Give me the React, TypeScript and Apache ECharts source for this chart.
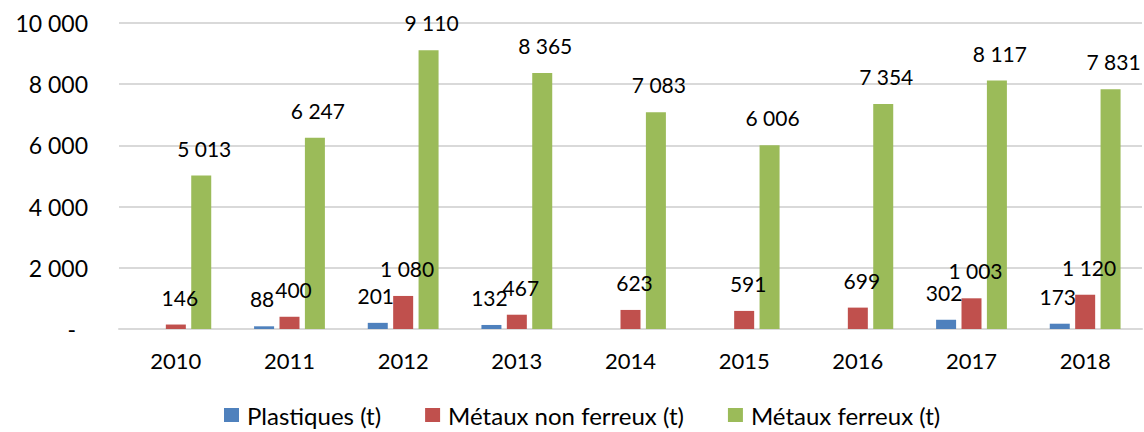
import React, { useEffect, useRef } from "react";
import * as echarts from "echarts";

const years = ["2010", "2011", "2012", "2013", "2014", "2015", "2016", "2017", "2018"];
const plastiques = [null, 88, 201, 132, null, null, null, 302, 173];
const metauxNonFerreux = [146, 400, 1080, 467, 623, 591, 699, 1003, 1120];
const metauxFerreux = [5013, 6247, 9110, 8365, 7083, 6006, 7354, 8117, 7831];
const seriesNames = ["Plastiques (t)", "Métaux non ferreux (t)", "Métaux ferreux (t)"];
const colors = ["#4f81bd", "#c0504d", "#9bbb59"];
const labelShift = [-2, 4, 3];

const fmt = (v: number) => String(Math.round(v)).replace(/\B(?=(\d{3})+(?!\d))/g, " ");
const FONT = "Lato";

export default function App() {
  const ref = useRef<HTMLDivElement>(null);
  useEffect(() => {
    const chart = echarts.init(ref.current!, undefined, { renderer: "svg" });
    const mk = (i: number, data: (number | null)[]) => ({
      name: seriesNames[i],
      type: "bar",
      data,
      barWidth: 20,
      barGap: "27%",
      itemStyle: { color: colors[i] },
      label: {
        show: true,
        position: "top" as const,
        distance: 17,
        offset: [labelShift[i], 0],
        color: "#000",
        fontFamily: FONT,
        fontSize: 21,
        formatter: (p: any) => (p.value == null ? "" : fmt(p.value)),
      },
    });
    chart.setOption({
      animation: false,
      textStyle: { fontFamily: FONT },
      grid: { left: 119, right: 2, top: 23, bottom: 103 },
      legend: {
        left: 219,
        top: 398,
        itemWidth: 15,
        itemHeight: 14,
        itemGap: 44,
        icon: "rect",
        textStyle: { fontFamily: FONT, fontSize: 24, color: "#000", padding: [0, 0, 0, 3] },
        data: seriesNames,
      },
      xAxis: {
        type: "category",
        data: years,
        axisLine: { lineStyle: { color: "#d9d9d9", width: 2 } },
        axisTick: { show: false },
        axisLabel: { fontFamily: FONT, fontSize: 22, color: "#000", margin: 20 },
      },
      yAxis: {
        type: "value",
        min: 0,
        max: 10000,
        interval: 2000,
        axisLine: { show: false },
        axisTick: { show: false },
        splitLine: { lineStyle: { color: "#d9d9d9", width: 2 } },
        axisLabel: {
          fontFamily: FONT,
          fontSize: 23,
          color: "#000",
          margin: 31,
          formatter: (v: number) => (v === 0 ? "{d|-}" : fmt(v)),
          rich: { d: { fontFamily: FONT, fontSize: 23, color: "#000", padding: [0, 12, 0, 0] } },
        },
      },
      series: [mk(0, plastiques), mk(1, metauxNonFerreux), mk(2, metauxFerreux)],
    });
    return () => chart.dispose();
  }, []);
  return (
    <div
      ref={ref}
      style={{ position: "absolute", left: 0, top: 0, width: 1144, height: 432, background: "#fff" }}
    />
  );
}
